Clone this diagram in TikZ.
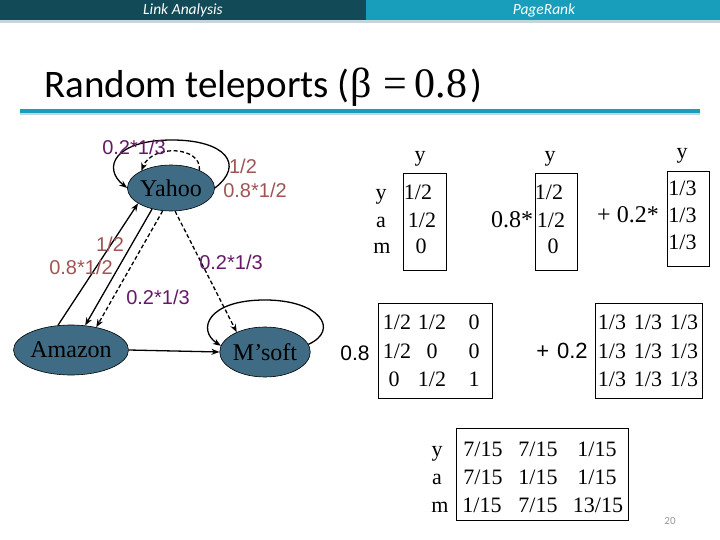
\documentclass[tikz,border=0pt]{standalone}
\usepackage{fontspec}
\setmainfont{Liberation Serif}
\newfontfamily\calib{Carlito}
\newfontfamily\arialf{Liberation Sans}
\usetikzlibrary{shapes.geometric,arrows.meta}
\definecolor{hdark}{HTML}{124B57}
\definecolor{hlight}{HTML}{189DBB}
\definecolor{hgray}{HTML}{C5D5DC}
\definecolor{nodefill}{HTML}{3F6C84}
\definecolor{labbrown}{HTML}{A05555}
\definecolor{labpurple}{HTML}{661A66}
\definecolor{pnum}{HTML}{999999}
\tikzset{
  pg/.style={ellipse, draw=black, fill=nodefill, line width=0.6pt, inner sep=0pt, font=\fontsize{24}{26}\selectfont},
  edge/.style={line width=1.3pt, -{Stealth[length=8pt,width=6pt]}},
  dedge/.style={edge, dash pattern=on 4pt off 2.5pt},
  lbr/.style={text=labbrown, font=\arialf\fontsize{20}{21}\selectfont, inner sep=0pt},
  lpu/.style={text=labpurple, font=\arialf\fontsize{20}{21}\selectfont, inner sep=0pt},
  val/.style={font=\fontsize{22}{24}\selectfont, inner sep=0pt, anchor=base},
  fval/.style={font=\fontsize{24}{26}\selectfont, inner sep=0pt, anchor=base},
  sval/.style={font=\arialf\fontsize{21}{24}\selectfont, inner sep=0pt, anchor=base},
  mbox/.style={draw, line width=0.8pt},
  hdr/.style={text=white, font=\calib\itshape\fontsize{15.5}{16}\selectfont, inner sep=0pt}
}
\begin{document}
\begin{tikzpicture}[x=1pt,y=-1pt]
\useasboundingbox (0,0) rectangle (720,540);
\fill[white] (0,0) rectangle (720,540);
% header
\fill[hdark] (0,0) rectangle (366,20);
\fill[hlight] (366,0) rectangle (720,20);
\fill[hgray] (0,20) rectangle (720,23);
\node[hdr] (h1) at (183,10) {Link Analysis};
\node[hdr] (h2) at (544,10) {PageRank};
% title
\node[anchor=base west, inner sep=0pt, font=\calib\fontsize{39}{42}\selectfont] (title) at (44,98)
  {Random teleports (\hspace{1pt}{\rmfamily\fontsize{42}{44}\selectfont β\hspace{12pt}=\hspace{7pt}0.8}\hspace{3pt})};
\fill[hlight] (20,109) rectangle (700,113);
\fill[hgray] (20,113) rectangle (700,115);
% graph nodes
\node[pg, minimum width=86pt, minimum height=46pt] (Y) at (171,188) {Yahoo};
\node[pg, minimum width=90pt, minimum height=50pt] (A) at (71,350) {Amazon};
\node[pg, minimum width=84pt, minimum height=50pt] (M) at (265,352) {M’soft};
% edges
\draw[edge] (Y.east) .. controls (245,165) and (226,140) .. (172,140) .. controls (114,140) and (102,168) .. (Y.west);
\draw[dedge] (Y.32) .. controls (202,146) and (152,144) .. (Y.150);
\draw[edge] (A.118) -- (Y.205);
\draw[edge] (Y.228) -- (A.60);
\draw[dedge] (Y.250) -- (A.42);
\draw[dedge] (Y.280) -- (M.145);
\draw[edge] (A.east) -- (M.west);
\draw[edge] (M.10) .. controls (340,330) and (320,300) .. (265,300) .. controls (207,300) and (197,330) .. (M.172);
% labels
\node[lpu] (l1) at (134,147) {0.2*1/3};
\node[lbr] (l2) at (243,166) {1/2};
\node[lbr] (l3) at (255,190) {0.8*1/2};
\node[lbr] (l4) at (110,244) {1/2};
\node[lbr] (l5) at (81,267) {0.8*1/2};
\node[lpu] (l6) at (158,297) {0.2*1/3};
\node[lpu] (l7) at (231,262) {0.2*1/3};
% section 1
\node[mbox, minimum width=43pt, minimum height=97pt] (b1) at (424.5,221.5) {};
\node[val] (h1y) at (420,162) {y};
\node[val] (r1y) at (381,200) {y};
\node[val] (r1a) at (381,227) {a};
\node[val] (r1m) at (382,254) {m};
\node[val] (v11) at (418,200) {1/2};
\node[val] (v12) at (422,227) {1/2};
\node[val] (v13) at (421,254) {0};
% section 2
\node[mbox, minimum width=42pt, minimum height=97pt] (b2) at (556,221.5) {};
\node[val] (h2y) at (550,162) {y};
\node[fval] (f2) at (512,227) {0.8*};
\node[val] (v21) at (549,200) {1/2};
\node[val] (v22) at (551,227) {1/2};
\node[val] (v23) at (553,254) {0};
% section 3
\node[mbox, minimum width=42pt, minimum height=95pt] (b3) at (688,218.5) {};
\node[val] (h3y) at (682,159) {y};
\node[fval] (f3) at (628,222.5) {+ 0.2*};
\node[val] (v31) at (682.5,195.5) {1/3};
\node[val] (v32) at (682.5,222.5) {1/3};
\node[val] (v33) at (682.5,249.5) {1/3};
% section 4
\node[sval] (f4) at (355,360) {0.8};
\node[mbox, minimum width=114pt, minimum height=95pt] (b4) at (435,350.5) {};
\node[val] at (397,329) {1/2};
\node[val] at (432,329) {1/2};
\node[val] at (474,329) {0};
\node[val] at (397,358) {1/2};
\node[val] at (432,358) {0};
\node[val] at (474,358) {0};
\node[val] at (394,386) {0};
\node[val] at (432,386) {1/2};
\node[val] at (474,386) {1};
\node[sval, font=\arialf\fontsize{22}{24}\selectfont] (f5) at (562,358) {+\hspace{8pt}0.2};
\node[mbox, minimum width=107pt, minimum height=95pt] (b5) at (648.5,350.5) {};
\foreach \yy in {329,358,386}{
  \node[val] at (612,\yy) {1/3};
  \node[val] at (648,\yy) {1/3};
  \node[val] at (684,\yy) {1/3};
}
% result
\node[mbox, minimum width=172pt, minimum height=92pt] (b6) at (542,474) {};
\node[val] at (437,456.5) {y};
\node[val] at (437,484.5) {a};
\node[val] at (440,512.5) {m};
\node[val] at (483,456.5) {7/15};
\node[val] at (538,456.5) {7/15};
\node[val] at (597,456.5) {1/15};
\node[val] at (483,484.5) {7/15};
\node[val] at (538,484.5) {1/15};
\node[val] at (597,484.5) {1/15};
\node[val] at (482,512.5) {1/15};
\node[val] at (538,512.5) {7/15};
\node[val] at (598,512.5) {13/15};
\node[text=pnum, font=\calib\fontsize{11}{12}\selectfont, inner sep=0pt] (pn) at (670,521) {20};
\end{tikzpicture}
\end{document}
